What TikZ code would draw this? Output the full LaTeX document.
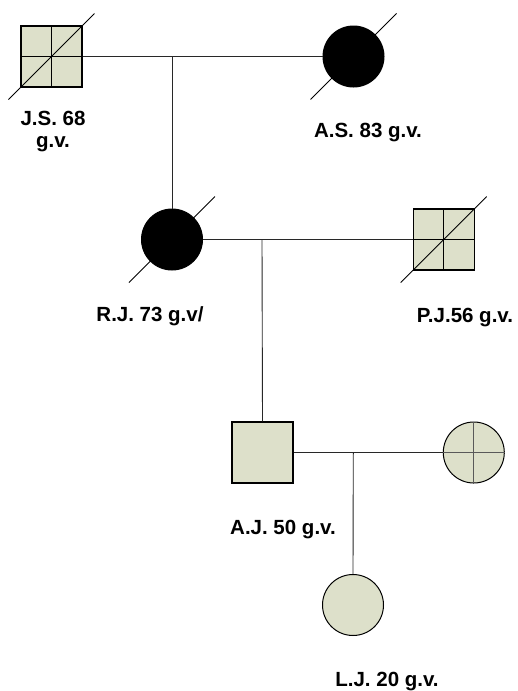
\documentclass[tikz,border=0pt]{standalone}
\usepackage{fontspec}
\setmainfont{Liberation Sans}
\definecolor{pfill}{RGB}{221,224,202}
\definecolor{pline}{RGB}{40,40,40}
\begin{document}
\begin{tikzpicture}[x=1pt,y=-1pt,
  male/.style={draw=black,line width=1.2pt,fill=pfill,minimum size=61pt,inner sep=0pt,rectangle},
  female/.style={draw=black,line width=1pt,fill=pfill,minimum size=61pt,inner sep=0pt,circle},
  affected/.style={draw=black,line width=1pt,fill=black,minimum size=61pt,inner sep=0pt,circle},
  conn/.style={draw=pline,line width=0.9pt},
  inner/.style={draw=black,line width=1pt},
  diag/.style={draw=black,line width=0.8pt},
  lbl/.style={anchor=base,font=\bfseries\fontsize{20.5}{24}\selectfont,inner sep=0pt}]
\useasboundingbox (0,0) rectangle (518,691);
% nodes
\node[male] (js) at (51.5,56.5) {};
\node[affected] (as) at (353.5,56.5) {};
\node[affected] (rj) at (172,239.5) {};
\node[male] (pj) at (443.7,239.5) {};
\node[male] (aj) at (262.5,452.5) {};
\node[female] (aw) at (473.8,452.5) {};
\node[female] (lj) at (353,605) {};
% marriage / descent points
\coordinate (m1) at (172,56.5);
\coordinate (m2) at (262,239.5);
\coordinate (m3) at (353.3,452.5);
% connectors
\draw[conn] (js.east) -- (as.west);
\draw[conn] (m1) -- (rj.north);
\draw[conn] (rj.east) -- (pj.west);
\draw[conn] (m2) -- (aj.north);
\draw[conn] (aj.east) -- (aw.west);
\draw[conn] (m3) -- (lj.north);
% inner crosses
\draw[inner] (js.north) -- (js.south) (js.west) -- (js.east);
\draw[inner] (pj.north) -- (pj.south) (pj.west) -- (pj.east);
\draw[draw=black!65,line width=1.2pt] (aw.north) -- (aw.south) (aw.west) -- (aw.east);
% deceased diagonals
\foreach \n in {js,as,rj,pj}{
  \draw[diag] ([shift={(-43,43)}]\n.center) -- ([shift={(43,-43)}]\n.center);
}
% labels
\node[lbl] (ljs1) at (53,125) {J.S. 68};
\node[lbl] (ljs2) at (53,147.7) {g.v.};
\node[lbl] (las) at (368,137.3) {A.S. 83 g.v.};
\node[lbl] (lrj) at (150,321) {R.J. 73 g.v/};
\node[lbl] (lpj) at (465,322.3) {P.J.56 g.v.};
\node[lbl] (laj) at (283,534) {A.J. 50 g.v.};
\node[lbl] (llj) at (387,686) {L.J. 20 g.v.};
\end{tikzpicture}
\end{document}
